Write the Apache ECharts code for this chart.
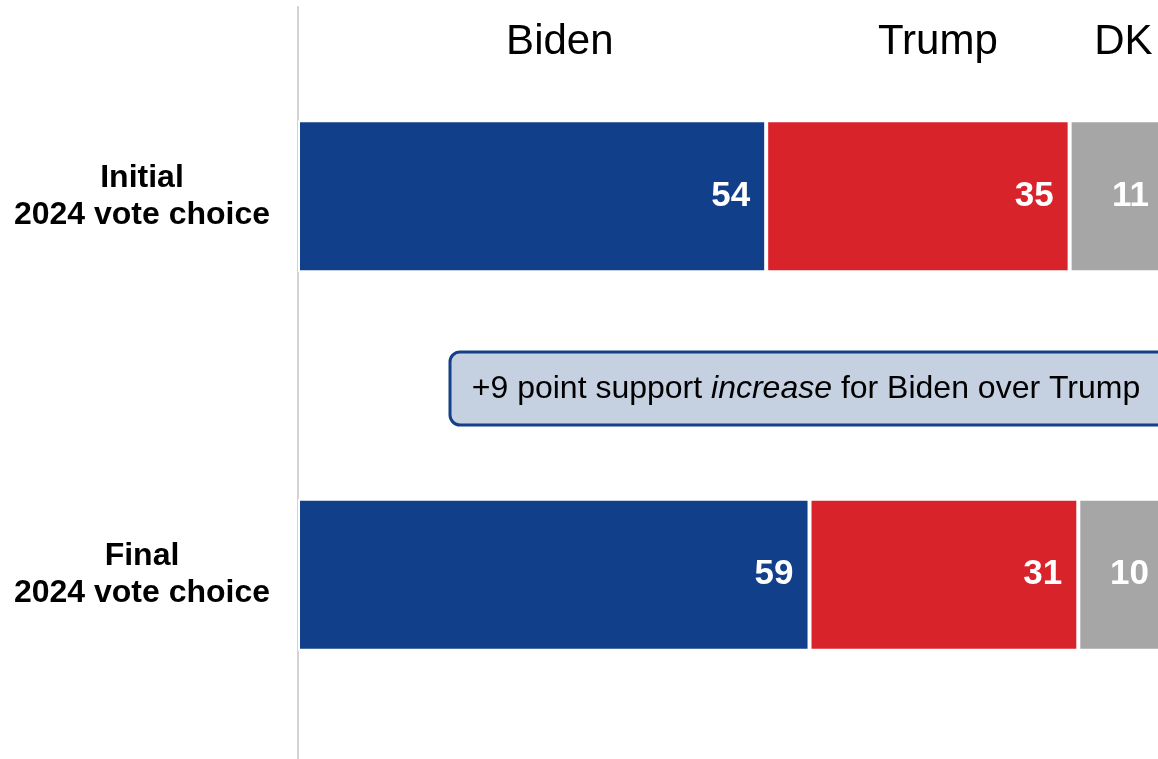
<!DOCTYPE html>
<html><head><meta charset="utf-8">
<script src="https://cdn.jsdelivr.net/npm/echarts@6/dist/echarts.min.js"></script>
<style>html,body{margin:0;padding:0;background:#fff}#c{width:1158px;height:759px}</style>
</head><body><div id="c"></div>
<script>
var categories = ['Initial\n2024 vote choice', 'Final\n2024 vote choice'];
var seriesNames = ['Biden', 'Trump', 'DK'];
var biden = [54, 59];
var trump = [35, 31];
var dk = [11, 10];
var headerLabels = ['Biden', 'Trump', 'DK'];
var headerPos = [30.2, 73.8, 95.2];
var annotation = ['+9 point support ', 'increase', ' for Biden over Trump'];

var colors = ['#123f89', '#d9232b', '#a6a6a6'];
var font = 'Liberation Sans';
var chart = echarts.init(document.getElementById('c'));
function mk(name, data, color) {
  return {
    name: name, type: 'bar', stack: 'all', data: data, barWidth: 152,
    itemStyle: { color: color, borderColor: '#fff', borderWidth: 2 },
    label: { show: true, position: 'insideRight', distance: 16, color: '#fff',
      fontFamily: font, fontWeight: 'bold', fontSize: 35 }
  };
}
chart.setOption({
  animation: false,
  grid: { left: 298, width: 867, top: 7, height: 757, outerBoundsMode: 'none', containLabel: false },
  xAxis: { type: 'value', min: 0, max: 100, show: false },
  yAxis: { type: 'category', data: categories, inverse: true,
    axisLine: { show: true, lineStyle: { color: '#d3d3d3', width: 2 } },
    axisTick: { show: false },
    axisLabel: { align: 'center', margin: 156, color: '#000', fontFamily: font,
      fontWeight: 'bold', fontSize: 32, lineHeight: 37 } },
  series: [mk(seriesNames[0], biden, colors[0]), mk(seriesNames[1], trump, colors[1]), mk(seriesNames[2], dk, colors[2])]
});
var gfx = [
  { type: 'rect', shape: { x: 450, y: 352, width: 730, height: 73, r: 10 },
    style: { fill: '#c5d0e1', stroke: '#163f8a', lineWidth: 3 } },
  { type: 'text', x: 806, y: 389, style: {
    text: '{a|' + annotation[0] + '}{b|' + annotation[1] + '}{a|' + annotation[2] + '}',
    align: 'center', verticalAlign: 'middle',
    rich: { a: { fontFamily: font, fontSize: 32, fill: '#000' }, b: { fontFamily: font, fontSize: 32, fontStyle: 'italic', fill: '#000' } } } }
];
for (var i = 0; i < headerLabels.length; i++) {
  gfx.push({ type: 'text', x: chart.convertToPixel({xAxisIndex: 0}, headerPos[i]), y: 42,
    style: { text: headerLabels[i], fontFamily: font, fontSize: 42, fill: '#000', align: 'center', verticalAlign: 'middle' } });
}
chart.setOption({ graphic: gfx });
</script></body></html>
